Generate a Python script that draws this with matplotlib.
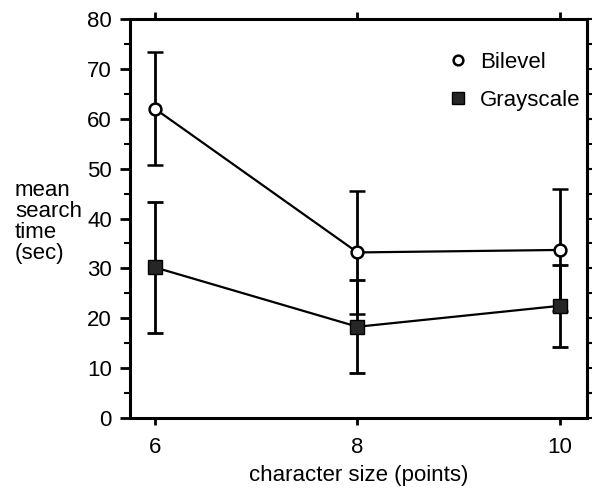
import matplotlib.pyplot as plt
from matplotlib.lines import Line2D
from matplotlib.ticker import MultipleLocator, NullFormatter

plt.rcParams["font.family"] = ["Liberation Sans", "DejaVu Sans"]

sizes = [6, 8, 10]
bilevel = [62.0, 33.2, 33.7]
bilevel_err = [11.3, 12.4, 12.3]
grayscale = [30.2, 18.3, 22.5]
grayscale_err = [13.2, 9.3, 8.2]

fig = plt.figure(figsize=(6.01, 4.88), dpi=100)
ax = fig.add_axes([0.2163, 0.1434, 0.7604, 0.8176])

ax.errorbar(sizes, bilevel, yerr=bilevel_err, color="black", lw=1.6,
            elinewidth=2.0, capsize=5.5, capthick=2.0, marker="o",
            markersize=8.5, markerfacecolor="white", markeredgewidth=1.8, zorder=3)
ax.errorbar(sizes, grayscale, yerr=grayscale_err, color="black", lw=1.6,
            elinewidth=2.0, capsize=5.5, capthick=2.0, marker="s",
            markersize=9.5, markerfacecolor="#262626", markeredgecolor="black",
            zorder=3)

ax.set_xlim(5.753, 10.267)
ax.set_ylim(0, 80)
ax.set_xticks(sizes)
ax.yaxis.set_major_locator(MultipleLocator(10))
ax.yaxis.set_minor_locator(MultipleLocator(5))

for s in ax.spines.values():
    s.set_linewidth(2.2)

ax.tick_params(axis="y", which="major", direction="out", length=7, width=2,
               labelsize=16, pad=6)
ax.tick_params(axis="y", which="minor", direction="out", length=4, width=1.5)
ax.tick_params(axis="x", which="major", direction="out", length=5, width=2,
               labelsize=16, pad=9, top=True)

# short ticks along the right side
rax = ax.secondary_yaxis("right")
rax.yaxis.set_major_locator(MultipleLocator(5))
rax.yaxis.set_major_formatter(NullFormatter())
rax.tick_params(direction="out", length=3.5, width=1.5)
rax.spines["right"].set_linewidth(2.2)

ax.set_xlabel("character size (points)", fontsize=16, labelpad=5)
fig.text(0.025, 0.545, "mean\nsearch\ntime\n(sec)", fontsize=16,
         ha="left", va="center", linespacing=1.0)

handles = [
    Line2D([], [], ls="none", marker="o", markersize=7, markerfacecolor="white",
           markeredgecolor="black", markeredgewidth=1.8, label="Bilevel"),
    Line2D([], [], ls="none", marker="s", markersize=8.5, markerfacecolor="#262626",
           markeredgecolor="black", label="Grayscale"),
]
ax.legend(handles=handles, loc="upper right", frameon=False, fontsize=16,
          handlelength=1.0, handletextpad=0.5, labelspacing=0.75,
          borderaxespad=0.0, bbox_to_anchor=(1.005, 0.94))

fig.savefig("out.png", dpi=100)
